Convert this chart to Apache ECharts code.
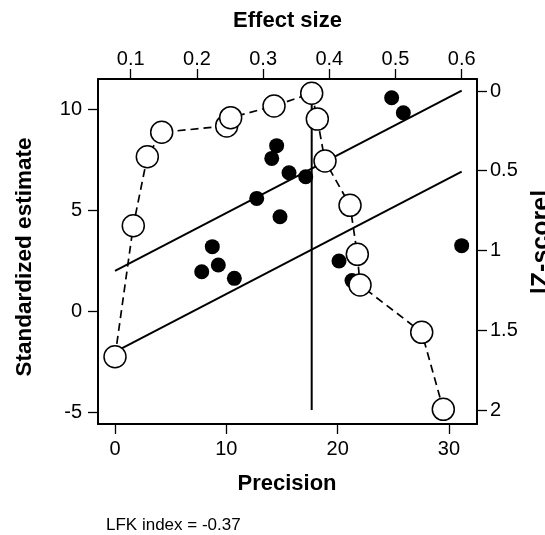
<!DOCTYPE html>
<html><head><meta charset="utf-8">
<script src="https://cdn.jsdelivr.net/npm/echarts@6/dist/echarts.min.js"></script>
<style>html,body{margin:0;padding:0;background:#fff}#c{width:545px;height:535px}</style>
</head><body><div id="c"></div>
<script>
// Galbraith (radial) plot data: precision vs standardized estimate
const precision   = [14.52, 14.08, 15.63, 12.73, 14.82, 8.74, 9.28, 7.79, 10.72, 24.85, 25.90, 17.13, 31.14, 20.12, 21.29];
const stdEstimate = [8.21, 7.58, 6.87, 5.60, 4.69, 3.21, 2.30, 1.97, 1.64, 10.58, 9.84, 6.67, 3.26, 2.50, 1.53];
// regression band lines (endpoints)
const bandPrecision = [0, 31.14];
const upperBand = [2.01, 10.93];
const lowerBand = [-2.0, 6.92];
// Doi plot data: effect size vs |Z-score|
const doiEffect = [0.0763, 0.1039, 0.1251, 0.1468, 0.2450, 0.2510, 0.3165, 0.3734, 0.3819, 0.3935, 0.4313, 0.4423, 0.4464, 0.5396, 0.5722];
const doiZ      = [1.666, 0.845, 0.412, 0.259, 0.219, 0.167, 0.094, 0.014, 0.176, 0.439, 0.717, 1.024, 1.216, 1.513, 1.996];
const tipEffect = 0.3734;
const tipZRange = [0, 2];
// tick values
const precisionTicks = [0, 10, 20, 30];
const estimateTicks = [-5, 0, 5, 10];
const effectTicks = [0.1, 0.2, 0.3, 0.4, 0.5, 0.6];
const zTicks = [0, 0.5, 1, 1.5, 2];
const lfkIndex = -0.37;

const FONT = 'Liberation Sans, Arial, Helvetica, sans-serif';
function axisBase(ticks, margin) {
  return {
    type: 'value',
    axisLine: { show: true, onZero: false, lineStyle: { color: '#000', width: 2 } },
    axisTick: { show: true, inside: false, length: 10, customValues: ticks, lineStyle: { color: '#000', width: 1.3 } },
    axisLabel: { show: true, customValues: ticks, margin: margin, color: '#000', fontSize: 20, fontFamily: FONT },
    splitLine: { show: false }
  };
}
const chart = echarts.init(document.getElementById('c'), null, { renderer: 'canvas' });
const option = {
  animation: false,
  backgroundColor: '#fff',
  grid: { left: 98, right: 68, top: 79, bottom: 111, show: false, outerBoundsMode: 'none', containLabel: false },
  xAxis: [
    Object.assign(axisBase(precisionTicks, 15), { position: 'bottom', min: -1.527, max: 32.516 }),
    Object.assign(axisBase(effectTicks, 10), { position: 'top', min: 0.0506, max: 0.6231 })
  ],
  yAxis: [
    Object.assign(axisBase(estimateTicks, 16), { position: 'left', min: -5.57, max: 11.51 }),
    Object.assign(axisBase(zTicks, 13), { position: 'right', inverse: true, min: -0.0752, max: 2.0878 })
  ],
  series: [
    {
      type: 'scatter', xAxisIndex: 0, yAxisIndex: 0, symbol: 'circle', symbolSize: 15,
      itemStyle: { color: '#000', opacity: 1 }, z: 2,
      data: precision.map((x, i) => [x, stdEstimate[i]])
    },
    {
      type: 'line', xAxisIndex: 0, yAxisIndex: 0, showSymbol: false, z: 3,
      lineStyle: { color: '#000', width: 2 },
      data: bandPrecision.map((x, i) => [x, upperBand[i]])
    },
    {
      type: 'line', xAxisIndex: 0, yAxisIndex: 0, showSymbol: false, z: 3,
      lineStyle: { color: '#000', width: 2 },
      data: bandPrecision.map((x, i) => [x, lowerBand[i]])
    },
    {
      type: 'line', xAxisIndex: 1, yAxisIndex: 1, showSymbol: false, z: 3,
      lineStyle: { color: '#000', width: 2 },
      data: tipZRange.map(z => [tipEffect, z])
    },
    {
      type: 'line', xAxisIndex: 1, yAxisIndex: 1, symbol: 'circle', symbolSize: 22,
      showSymbol: true, showAllSymbol: true, z: 5,
      itemStyle: { color: '#fff', borderColor: '#000', borderWidth: 1.5, opacity: 1 },
      lineStyle: { color: '#000', width: 1.7, type: [8, 5] },
      data: doiEffect.map((e, i) => [e, doiZ[i]])
    }
  ],
  graphic: [
    { type: 'text', x: 287.5, y: 21, style: { text: 'Effect size', font: 'bold 22px ' + FONT, fill: '#000', align: 'center', verticalAlign: 'middle' } },
    { type: 'text', x: 287, y: 484, style: { text: 'Precision', font: 'bold 22px ' + FONT, fill: '#000', align: 'center', verticalAlign: 'middle' } },
    { type: 'text', x: 24.5, y: 257, rotation: Math.PI / 2, style: { text: 'Standardized estimate', font: 'bold 22.5px ' + FONT, fill: '#000', align: 'center', verticalAlign: 'middle' } },
    { type: 'text', x: 542, y: 242, rotation: Math.PI / 2, style: { text: '|Z-score|', font: 'bold 25px ' + FONT, fill: '#000', align: 'center', verticalAlign: 'middle' } },
    { type: 'text', x: 106, y: 525, style: { text: 'LFK index = ' + lfkIndex, font: '17px ' + FONT, fill: '#000', align: 'left', verticalAlign: 'middle' } }
  ]
};
chart.setOption(option);
</script>
</body></html>
